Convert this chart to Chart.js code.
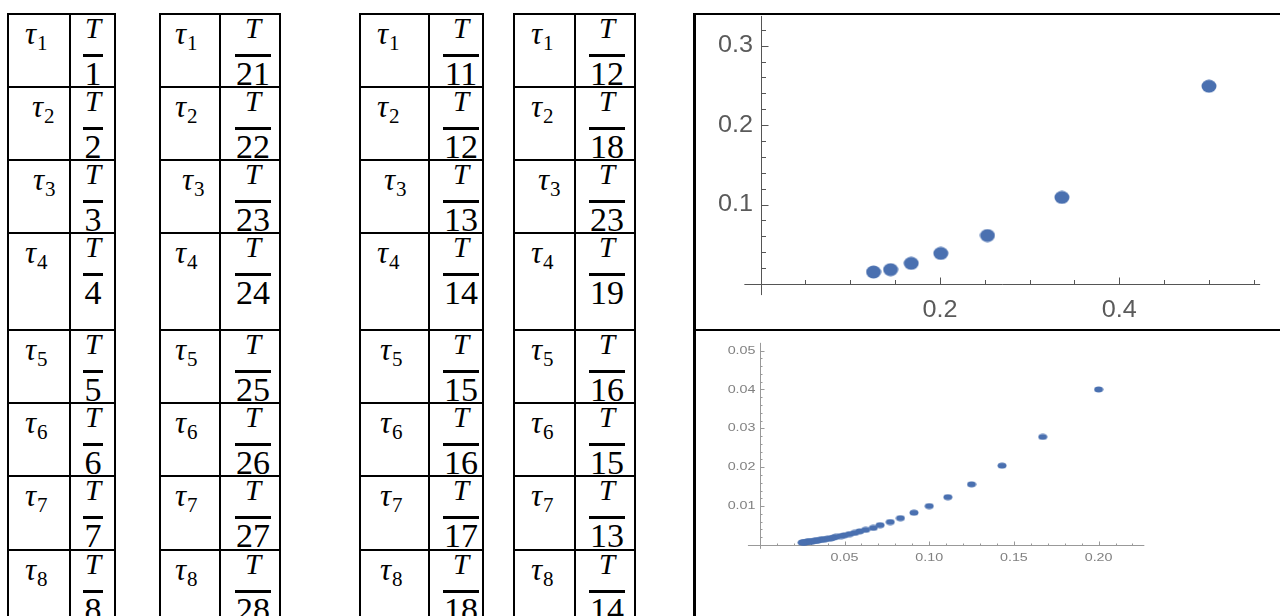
<!DOCTYPE html>
<html>
<head>
<meta charset="utf-8">
<script src="https://cdn.jsdelivr.net/npm/chart.js@4.4.1/dist/chart.umd.min.js"></script>
<style>
  html, body { margin: 0; padding: 0; background: #fff; }
  #page { position: relative; width: 1280px; height: 616px; overflow: hidden; background: #fff; }
  .ln { position: absolute; background: #000; }
  .tau { position: absolute; font-family: 'Liberation Serif', serif; font-style: italic; font-size: 31px; line-height: 30px; white-space: nowrap; color: #000; }
  .tau span { font-style: normal; font-size: 21px; position: relative; top: 6px; margin-left: 1px; }
  .num { position: absolute; width: 60px; text-align: center; font-family: 'Liberation Serif', serif; font-style: italic; font-size: 29px; line-height: 28px; color: #000; }
  .den { position: absolute; width: 60px; text-align: center; font-family: 'Liberation Serif', serif; font-size: 34px; line-height: 34px; color: #000; }
  canvas { position: absolute; }
</style>
</head>
<body>
<div id="page">
  <canvas id="bigPlot" width="584" height="329" style="left:696px; top:0px;"></canvas>
  <canvas id="smallPlot" width="584" height="285" style="left:696px; top:331px;"></canvas>
</div>
<script>
// table contents
const tauIndex = ['1', '2', '3', '4', '5', '6', '7', '8'];
const denomA = ['1', '2', '3', '4', '5', '6', '7', '8'];
const denomB = ['21', '22', '23', '24', '25', '26', '27', '28'];
const denomC = ['11', '12', '13', '14', '15', '16', '17', '18'];
const denomD = ['12', '18', '23', '19', '16', '15', '13', '14'];

// upper plot
const bigX = [0.5, 0.336, 0.253, 0.201, 0.168, 0.145, 0.126];
const bigY = [0.249, 0.109, 0.061, 0.0385, 0.026, 0.018, 0.015];
const bigXTicks = [0.2, 0.4];
const bigXLabels = ['0.2', '0.4'];
const bigYTicks = [0.1, 0.2, 0.3];
const bigYLabels = ['0.1', '0.2', '0.3'];

// lower plot
const smallX = [0.200, 0.167, 0.143, 0.125, 0.111, 0.100, 0.091, 0.083, 0.077, 0.071,
  0.067, 0.0625, 0.059, 0.056, 0.053, 0.050, 0.048, 0.045, 0.0435, 0.042,
  0.040, 0.0385, 0.037, 0.0357, 0.0345, 0.0333, 0.0323, 0.0313, 0.0303, 0.0294,
  0.0286, 0.0278, 0.027, 0.0263, 0.0256, 0.025];
const smallY = [0.0400, 0.0278, 0.0204, 0.0156, 0.0123, 0.0100, 0.0083, 0.0069, 0.0059, 0.0051,
  0.0044, 0.0039, 0.0035, 0.0031, 0.0028, 0.0025, 0.0023, 0.0021, 0.0019, 0.0017,
  0.0016, 0.0015, 0.0014, 0.0013, 0.0012, 0.0011, 0.00104, 0.00098, 0.00092, 0.00087,
  0.00082, 0.00077, 0.00073, 0.00069, 0.00066, 0.00062];
const smallXTicks = [0.05, 0.10, 0.15, 0.20];
const smallXLabels = ['0.05', '0.10', '0.15', '0.20'];
const smallYTicks = [0.01, 0.02, 0.03, 0.04, 0.05];
const smallYLabels = ['0.01', '0.02', '0.03', '0.04', '0.05'];

const page = document.getElementById('page');

function addLine(l, t, w, h) {
  const d = document.createElement('div');
  d.className = 'ln';
  d.style.cssText = `left:${l}px;top:${t}px;width:${w}px;height:${h}px`;
  page.appendChild(d);
}

function addText(cls, html, l, t) {
  const d = document.createElement('div');
  d.className = cls;
  d.innerHTML = html;
  d.style.left = l + 'px';
  d.style.top = t + 'px';
  page.appendChild(d);
}

// ===== tablas =====
const rowTops = [14, 87, 160, 233, 330, 403, 476, 550];
const tables = [
  { denoms: denomA, left: 8, mid: 70, right: 115, barC: 93, tauX: 25, shift: [0, 7, 8, 0, 0, 0, 0, 0] },
  { denoms: denomB, left: 160, mid: 220, right: 280, barC: 253, tauX: 175, shift: [0, 0, 7, 0, 0, 0, 0, 0] },
  { denoms: denomC, left: 360, mid: 429, right: 483, barC: 461, tauX: 377, shift: [0, 0, 7, 0, 3, 3, 3, 3] },
  { denoms: denomD, left: 514, mid: 575, right: 635, barC: 607, tauX: 531, shift: [0, 0, 7, 0, 0, 0, 0, 0] }
];

tables.forEach(tb => {
  tb.denoms.forEach((den, i) => {
    const top = rowTops[i];
    addText('tau', 'τ<span>' + tauIndex[i] + '</span>', tb.tauX + tb.shift[i], top + 5);
    addText('num', 'T', tb.barC - 30, top);
    addText('den', den, tb.barC - 30, top + 42.5);
    const bw = den.length > 1 ? 36 : 20;
    addLine(tb.barC - bw / 2, top + 40, bw, 2.5);
  });
  rowTops.forEach(t => addLine(tb.left - 1, t - 1, tb.right - tb.left + 2, 2));
  [tb.left, tb.mid, tb.right].forEach(x => addLine(x - 1, 13, 2, 610));
});

// marco del panel derecho
addLine(693, 13, 3, 610);
addLine(693, 13, 587, 2);
addLine(693, 328.5, 587, 2);

// ===== ejes estilo Mathematica =====
const mathAxes = {
  id: 'mathAxes',
  beforeDatasetsDraw(chart, args, o) {
    const ctx = chart.ctx;
    const xs = chart.scales.x, ys = chart.scales.y;
    const x0 = Math.round(xs.getPixelForValue(0)) + 0.5;
    const y0 = Math.round(ys.getPixelForValue(0)) + 0.5;
    const isMajor = (list, v) => list.some(t => Math.abs(t - v) < 1e-6);
    const stretch = o.stretch || 1;

    ctx.save();
    ctx.strokeStyle = o.axisColor;
    ctx.lineWidth = 1;
    ctx.beginPath();
    ctx.moveTo(xs.getPixelForValue(o.xSpan[0]), y0);
    ctx.lineTo(xs.getPixelForValue(o.xSpan[1]), y0);
    ctx.moveTo(x0, ys.getPixelForValue(o.ySpan[0]));
    ctx.lineTo(x0, ys.getPixelForValue(o.ySpan[1]));

    for (let i = 1; i * o.xStep <= o.xSpan[1]; i++) {
      const v = i * o.xStep;
      const px = Math.round(xs.getPixelForValue(v)) + 0.5;
      ctx.moveTo(px, y0);
      ctx.lineTo(px, y0 - (isMajor(o.xTicks, v) ? o.majorLen : o.minorLen));
    }
    for (let i = 1; i * o.yStep <= o.ySpan[1]; i++) {
      const v = i * o.yStep;
      const py = Math.round(ys.getPixelForValue(v)) + 0.5;
      ctx.moveTo(x0, py);
      ctx.lineTo(x0 + (isMajor(o.yTicks, v) ? o.majorLen : o.minorLen), py);
    }
    ctx.stroke();

    // etiquetas (estiradas en horizontal como en la imagen original)
    ctx.fillStyle = o.labelColor;
    ctx.font = o.font;
    const label = (txt, px, py, align, base) => {
      ctx.save();
      ctx.translate(px, py);
      ctx.scale(stretch, 1);
      ctx.textAlign = align;
      ctx.textBaseline = base;
      ctx.fillText(txt, 0, 0);
      ctx.restore();
    };
    o.xTicks.forEach((v, i) => label(o.xLabels[i], xs.getPixelForValue(v), y0 + o.xGap, 'center', 'top'));
    o.yTicks.forEach((v, i) => label(o.yLabels[i], x0 - o.yGap, ys.getPixelForValue(v), 'right', 'middle'));
    ctx.restore();
  }
};

function makeDot(w, h, color) {
  const c = document.createElement('canvas');
  c.width = w;
  c.height = h;
  const g = c.getContext('2d');
  g.fillStyle = color;
  g.beginPath();
  g.ellipse(w / 2, h / 2, w / 2 - 0.5, h / 2 - 0.5, 0, 0, Math.PI * 2);
  g.fill();
  return c;
}

function toPoints(xs, ys) {
  return xs.map((x, i) => ({ x: x, y: ys[i] }));
}

function plotConfig(points, dot, range, padding, axes) {
  return {
    type: 'scatter',
    data: {
      datasets: [{
        data: points,
        pointStyle: dot,
        pointRadius: 5,
        pointHoverRadius: 5
      }]
    },
    options: {
      responsive: false,
      animation: false,
      events: [],
      layout: { padding: padding },
      plugins: {
        legend: { display: false },
        tooltip: { enabled: false },
        mathAxes: axes
      },
      scales: {
        x: { type: 'linear', min: range.x[0], max: range.x[1], display: false },
        y: { type: 'linear', min: range.y[0], max: range.y[1], display: false }
      }
    },
    plugins: [mathAxes]
  };
}

new Chart(document.getElementById('bigPlot'), plotConfig(
  toPoints(bigX, bigY),
  makeDot(16, 14, '#4a70b0'),
  { x: [-0.05, 0.57], y: [-0.03, 0.35] },
  { left: 19.65, right: 8.21, top: 3.8, bottom: 21.2 },
  {
    xSpan: [-0.018, 0.557], ySpan: [-0.014, 0.3375],
    xStep: 0.05, yStep: 0.02,
    xTicks: bigXTicks, xLabels: bigXLabels,
    yTicks: bigYTicks, yLabels: bigYLabels,
    majorLen: 7, minorLen: 4.5,
    axisColor: '#555', labelColor: '#5a5a5a',
    font: '24px "Liberation Sans", Arial, sans-serif',
    stretch: 1.05,
    xGap: 14, yGap: 8.5
  }
));

new Chart(document.getElementById('smallPlot'), plotConfig(
  toPoints(smallX, smallY),
  makeDot(10, 7, '#4a70b0'),
  { x: [-0.015, 0.30], y: [-0.004, 0.0535] },
  { left: 38.39, right: 12, top: 1.95, bottom: 55.47 },
  {
    xSpan: [-0.007, 0.227], ySpan: [-0.001, 0.052],
    xStep: 0.01, yStep: 0.002,
    xTicks: smallXTicks, xLabels: smallXLabels,
    yTicks: smallYTicks, yLabels: smallYLabels,
    majorLen: 4, minorLen: 2,
    axisColor: '#999', labelColor: '#808080',
    font: '11px "Liberation Sans", Arial, sans-serif',
    stretch: 1.3,
    xGap: 7, yGap: 5
  }
));
</script>
</body>
</html>
